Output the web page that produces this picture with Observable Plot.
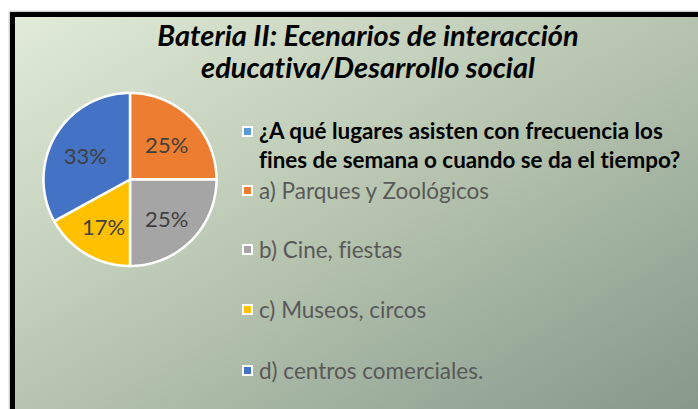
<!DOCTYPE html>
<html>
<head>
<meta charset="utf-8">
<script src="https://cdn.jsdelivr.net/npm/d3@7"></script>
<script src="https://cdn.jsdelivr.net/npm/@observablehq/plot@0.6"></script>
<style>
  html, body { margin: 0; padding: 0; background: #fff; width: 698px; height: 409px; overflow: hidden; }
  #frame {
    position: absolute; left: 10px; top: 12px; width: 700px; height: 410px;
    border: 5px solid #000; box-sizing: border-box;
    background: linear-gradient(to bottom right, #e1ebd7 0%, #b6c4af 50%, #84978a 100%);
    box-shadow: -1px -1px 2px rgba(0,0,0,0.25);
  }
  #title {
    position: absolute; left: 0; width: 736px; top: 19px; text-align: center;
    font-family: Lato, "Open Sans", sans-serif; font-weight: bold; font-style: italic;
    font-size: 29px; line-height: 32px; color: #000; font-variant-ligatures: none;
  }
  #chart { position: absolute; left: 0; top: 0; }
  #legend { position: absolute; left: 242px; top: 0; font-family: Lato, "Open Sans", sans-serif; font-variant-ligatures: none; }
  .item { position: absolute; left: 0; white-space: nowrap; display: flex; align-items: center; }
  .mk { width: 7px; height: 7px; border: 2px solid #fff; margin-right: 6px; flex: none; }
  .lbl { font-size: 22.5px; line-height: 27px; color: #595959; }
  .head { font-size: 22.4px; font-weight: bold; color: #000; line-height: 29px; }
</style>
</head>
<body>
<div id="frame"></div>
<div id="chart"></div>
<div id="title"></div>
<div id="legend"></div>
<script>
const titleLines = ["Bateria II: Ecenarios de interacción", "educativa/Desarrollo social"];
const seriesName = ["¿A qué lugares asisten con frecuencia los", "fines de semana o cuando se da el tiempo?"];
const seriesColor = "#5b9bd5";
const categories = ["a) Parques y Zoológicos", "b) Cine, fiestas", "c) Museos, circos", "d) centros comerciales."];
const values = [25, 25, 17, 33];
const percentLabels = ["25%", "25%", "17%", "33%"];
const colors = ["#ed7d31", "#a5a5a5", "#ffc000", "#4472c4"];

const rows = categories.map((c, i) => ({category: c, value: values[i], label: percentLabels[i], color: colors[i]}));
const arcs = d3.pie().sort(null).value(d => d.value)(rows);

const slices = arcs.map(a => {
  const n = Math.max(2, Math.ceil((a.endAngle - a.startAngle) / 0.02));
  const pts = [{x: 0, y: 0}];
  for (let k = 0; k <= n; k++) {
    const t = a.startAngle + (a.endAngle - a.startAngle) * k / n;
    pts.push({x: Math.sin(t), y: Math.cos(t)});
  }
  pts.push({x: 0, y: 0});
  return {color: a.data.color, points: pts};
});
const labelPts = arcs.map(a => {
  const m = (a.startAngle + a.endAngle) / 2;
  return {x: 0.6 * Math.sin(m), y: 0.6 * Math.cos(m) - 0.04, label: a.data.label};
});

const plot = Plot.plot({
  width: 698, height: 409, margin: 0,
  style: {background: "transparent", overflow: "visible"},
  x: {domain: [-1, 1], range: [43, 216], axis: null},
  y: {domain: [-1, 1], range: [265.5, 92.5], axis: null},
  marks: [
    ...slices.map(s => Plot.line(s.points, {x: "x", y: "y", fill: s.color, stroke: "#fff", strokeWidth: 2.5, strokeLinejoin: "round", curve: "linear"})),
    Plot.text(labelPts, {x: "x", y: "y", text: "label", fill: "#404040", fontSize: 22, fontFamily: "Lato, 'Open Sans', sans-serif"})
  ]
});
document.getElementById("chart").appendChild(plot);

document.getElementById("title").innerHTML = titleLines.join("<br>");

const legend = document.getElementById("legend");
const head = document.createElement("div");
head.className = "item";
head.style.top = "116px";
head.style.alignItems = "flex-start";
head.innerHTML = `<div class="mk" style="background:${seriesColor};margin-top:10px"></div><div class="head">${seriesName.join("<br>")}</div>`;
legend.appendChild(head);
const tops = [177, 236, 296, 357];
categories.forEach((c, i) => {
  const it = document.createElement("div");
  it.className = "item";
  it.style.top = tops[i] + "px";
  it.innerHTML = `<div class="mk" style="background:${colors[i]}"></div><div class="lbl">${c}</div>`;
  legend.appendChild(it);
});
</script>
</body>
</html>
